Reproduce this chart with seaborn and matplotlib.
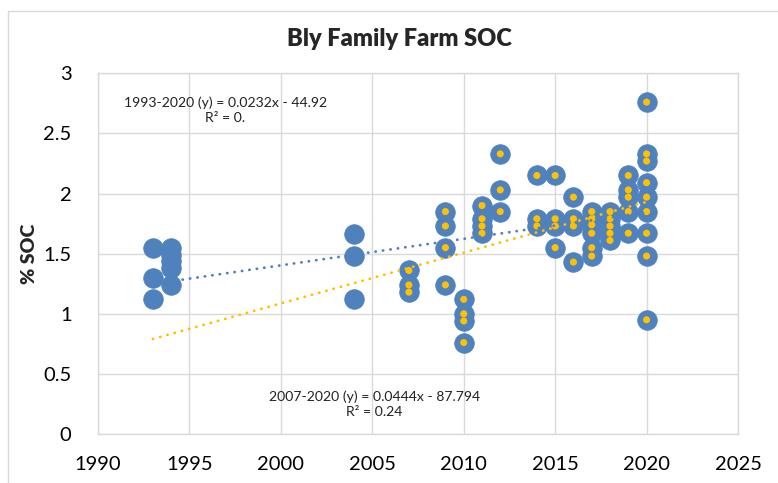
import numpy as np
import pandas as pd
import matplotlib
matplotlib.use("Agg")
import matplotlib.pyplot as plt
import seaborn as sns
from matplotlib.lines import Line2D

# ---------------- data ----------------
title = "Bly Family Farm SOC"
ylabel = "% SOC"

years = [1993, 1994, 2004, 2007, 2009, 2010, 2011, 2012,
         2014, 2015, 2016, 2017, 2018, 2019, 2020]
soc_1993 = [1.55, 1.30, 1.12]
soc_1994 = [1.55, 1.49, 1.44, 1.38, 1.24]
soc_2004 = [1.66, 1.48, 1.12]
soc_2007 = [1.36, 1.24, 1.18]
soc_2009 = [1.85, 1.73, 1.55, 1.24]
soc_2010 = [1.12, 1.00, 0.94, 0.76]
soc_2011 = [1.90, 1.79, 1.73, 1.67]
soc_2012 = [2.33, 2.03, 1.85]
soc_2014 = [2.15, 1.79, 1.73]
soc_2015 = [2.15, 1.79, 1.73, 1.55]
soc_2016 = [1.97, 1.79, 1.73, 1.43]
soc_2017 = [1.85, 1.79, 1.74, 1.67, 1.55, 1.48]
soc_2018 = [1.85, 1.79, 1.73, 1.67, 1.61]
soc_2019 = [2.15, 2.03, 1.97, 1.85, 1.67]
soc_2020 = [2.76, 2.33, 2.27, 2.09, 1.97, 1.85, 1.67, 1.48, 0.95]

soc_by_year = [soc_1993, soc_1994, soc_2004, soc_2007, soc_2009, soc_2010,
               soc_2011, soc_2012, soc_2014, soc_2015, soc_2016, soc_2017,
               soc_2018, soc_2019, soc_2020]

recent_start = 2007          # start year of the second (yellow) series
trend_span = [1993, 2020]    # x range of the trend lines

eq_all = "1993-2020 (y) = 0.0232x - 44.92\nR\u00b2 = 0."
eq_recent = "2007-2020 (y) = 0.0444x - 87.794\nR\u00b2 = 0.24"

x_ticks = [1990, 1995, 2000, 2005, 2010, 2015, 2020, 2025]
y_ticks = [0, 0.5, 1, 1.5, 2, 2.5, 3]
y_tick_labels = ["0", "0.5", "1", "1.5", "2", "2.5", "3"]

# ---------------- build table ----------------
rows = []
for yr, vals in zip(years, soc_by_year):
    for v in vals:
        rows.append({"year": yr, "soc": v})
df = pd.DataFrame(rows)
df_recent = df[df["year"] >= recent_start]

BLUE = "#4F81BD"
YELLOW = "#FFC000"
GRID = "#D9D9D9"

sns.set_theme(style="white")
plt.rcParams["font.family"] = ["Lato", "DejaVu Sans"]

fig = plt.figure(figsize=(7.78, 4.83), dpi=100)
ax = fig.add_axes([98 / 778, 1 - 434 / 483, (738 - 98) / 778, (434 - 73.3) / 483])

sns.scatterplot(data=df, x="year", y="soc", ax=ax, s=200, color=BLUE,
                edgecolor=BLUE, linewidth=0.5, zorder=3, legend=False)
sns.scatterplot(data=df_recent, x="year", y="soc", ax=ax, s=26, color=YELLOW,
                edgecolor="none", zorder=4, legend=False)

# trend lines (least squares fit of the data)
xs = np.linspace(trend_span[0], trend_span[1], 200)
p_all = np.polyfit(df["year"], df["soc"], 1)
p_rec = np.polyfit(df_recent["year"], df_recent["soc"], 1)
ax.plot(xs, np.polyval(p_all, xs), color=BLUE, lw=2.0,
        linestyle=(0, (0.1, 2.6)), dash_capstyle="round", zorder=5)
ax.plot(xs, np.polyval(p_rec, xs), color=YELLOW, lw=2.0,
        linestyle=(0, (0.1, 2.6)), dash_capstyle="round", zorder=5)

ax.set_xlim(1990, 2025)
ax.set_ylim(0, 3)
ax.set_xticks(x_ticks)
ax.set_yticks(y_ticks)
ax.set_yticklabels(y_tick_labels)
ax.grid(True, color=GRID, lw=1.0)
ax.set_axisbelow(True)
for sp in ax.spines.values():
    sp.set_color(GRID)
    sp.set_linewidth(1.0)
ax.tick_params(axis="both", length=0, labelsize=14.5, colors="black")
ax.tick_params(axis="y", pad=19)
ax.tick_params(axis="x", pad=16)
ax.set_xlabel("")
ax.set_ylabel(ylabel, fontsize=14, fontweight="heavy", labelpad=4)

ax.text(1996.95, 2.69, eq_all, ha="center", va="center", fontsize=10.1,
        linespacing=1.3, color="#222222", zorder=6)
ax.text(2005.1, 0.25, eq_recent, ha="center", va="center", fontsize=10.1,
        linespacing=1.3, color="#222222", zorder=6)

fig.text(399 / 778, 1 - 39 / 483, title, ha="center", va="center",
         fontsize=17, fontweight="heavy")

# outer chart frame (only top and left visible in the crop)
fig.add_artist(Line2D([8 / 778, 8 / 778], [0, 1 - 10.5 / 483],
                      transform=fig.transFigure, color=GRID, lw=1.0))
fig.add_artist(Line2D([8 / 778, 1], [1 - 10.5 / 483, 1 - 10.5 / 483],
                      transform=fig.transFigure, color=GRID, lw=1.0))

fig.savefig("out.png", dpi=100)
